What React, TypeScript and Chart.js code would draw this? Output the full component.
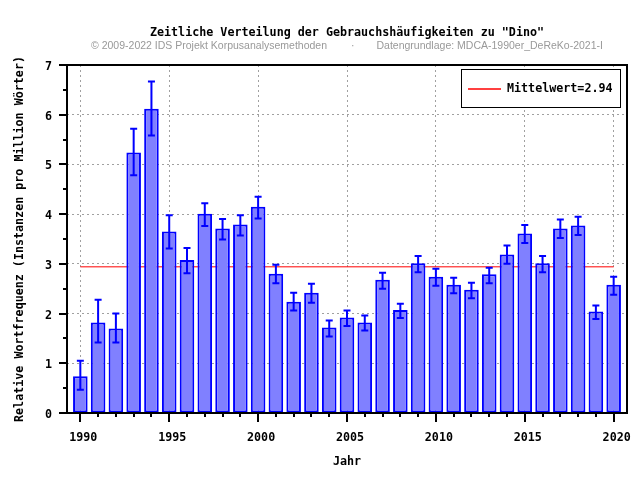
import React, { useEffect, useRef } from "react";
import { Chart, registerables } from "chart.js";

Chart.register(...registerables);

const years = [
  1990, 1991, 1992, 1993, 1994, 1995, 1996, 1997, 1998, 1999, 2000, 2001, 2002, 2003, 2004, 2005,
  2006, 2007, 2008, 2009, 2010, 2011, 2012, 2013, 2014, 2015, 2016, 2017, 2018, 2019, 2020,
];
const values = [
  0.74, 1.82, 1.7, 5.24, 6.12, 3.65, 3.08, 4.01, 3.71, 3.79, 4.15, 2.8, 2.24, 2.42, 1.72, 1.92,
  1.82, 2.68, 2.07, 3.01, 2.74, 2.58, 2.48, 2.79, 3.19, 3.61, 3.01, 3.71, 3.77, 2.04, 2.58,
];
const errLow = [
  0.47, 1.42, 1.42, 4.78, 5.58, 3.31, 2.81, 3.76, 3.49, 3.57, 3.91, 2.61, 2.06, 2.22, 1.54, 1.75,
  1.66, 2.5, 1.91, 2.83, 2.56, 2.41, 2.31, 2.61, 3.0, 3.42, 2.83, 3.52, 3.58, 1.89, 2.38,
];
const errHigh = [
  1.05, 2.28, 2.0, 5.72, 6.67, 3.98, 3.32, 4.22, 3.9, 3.98, 4.35, 2.98, 2.42, 2.6, 1.86, 2.06,
  1.96, 2.82, 2.2, 3.16, 2.9, 2.72, 2.62, 2.92, 3.37, 3.78, 3.16, 3.89, 3.95, 2.16, 2.74,
];
const meanValue = 2.94;
const meanLabel = "Mittelwert=2.94";
const yTickValues = [0, 0.5, 1, 1.5, 2, 2.5, 3, 3.5, 4, 4.5, 5, 5.5, 6, 6.5, 7];

const titleText = 'Zeitliche Verteilung der Gebrauchshäufigkeiten zu "Dino"';
const subtitleLeft = "© 2009-2022 IDS Projekt Korpusanalysemethoden";
const subtitleDot = "·";
const subtitleRight = "Datengrundlage: MDCA-1990er_DeReKo-2021-I";
const xTitle = "Jahr";
const yTitle = "Relative Wortfrequenz (Instanzen pro Million Wörter)";

const MONO = "'DejaVu Sans Mono', 'Liberation Mono', monospace";
const monoFont = { family: MONO, size: 11.7, weight: "bold" as const };
const TRANSPARENT = "rgba(0,0,0,0)";

const decorPlugin = {
  id: "decor",
  beforeDraw(chart: any) {
    const { ctx, width, height } = chart;
    ctx.save();
    ctx.fillStyle = "#ffffff";
    ctx.fillRect(0, 0, width, height);
    ctx.restore();
  },
  afterDatasetsDraw(chart: any) {
    const { ctx, chartArea: ca, scales } = chart;
    const xs = scales.x;
    const ys = scales.y;
    ctx.save();

    // error bars
    ctx.strokeStyle = "#0000ff";
    ctx.lineWidth = 2;
    years.forEach((yr, i) => {
      const x = xs.getPixelForValue(yr);
      const lo = ys.getPixelForValue(errLow[i]);
      const hi = ys.getPixelForValue(errHigh[i]);
      ctx.beginPath();
      ctx.moveTo(x, lo);
      ctx.lineTo(x, hi);
      ctx.moveTo(x - 3.5, hi);
      ctx.lineTo(x + 3.5, hi);
      ctx.moveTo(x - 3.5, lo);
      ctx.lineTo(x + 3.5, lo);
      ctx.stroke();
    });

    // frame
    ctx.strokeStyle = "#000000";
    ctx.lineWidth = 2;
    ctx.strokeRect(ca.left, ca.top, ca.right - ca.left, ca.bottom - ca.top);

    // x tick marks
    years.forEach((yr) => {
      const x = Math.round(xs.getPixelForValue(yr));
      const len = yr % 5 === 0 ? 9 : 4;
      ctx.beginPath();
      ctx.moveTo(x, ca.bottom);
      ctx.lineTo(x, ca.bottom + len);
      ctx.stroke();
    });
    // y tick marks
    yTickValues.forEach((v) => {
      const y = Math.round(ys.getPixelForValue(v));
      const len = Number.isInteger(v) ? 8 : 4;
      ctx.beginPath();
      ctx.moveTo(ca.left, y);
      ctx.lineTo(ca.left - len, y);
      ctx.stroke();
    });

    // legend
    ctx.font = `bold 11.7px ${MONO}`;
    const tw = ctx.measureText(meanLabel).width;
    const boxW = Math.round(54 + tw);
    const boxH = 39;
    const boxRight = ca.right - 6;
    const boxLeft = boxRight - boxW;
    const boxTop = ca.top + 4;
    ctx.fillStyle = "#ffffff";
    ctx.fillRect(boxLeft, boxTop, boxW, boxH);
    ctx.lineWidth = 1;
    ctx.strokeStyle = "#000000";
    ctx.strokeRect(boxLeft + 0.5, boxTop + 0.5, boxW - 1, boxH - 1);
    const midY = Math.round(boxTop + boxH / 2);
    ctx.strokeStyle = "#ff0000";
    ctx.lineWidth = 1.5;
    ctx.beginPath();
    ctx.moveTo(boxLeft + 7, midY);
    ctx.lineTo(boxLeft + 40, midY);
    ctx.stroke();
    ctx.fillStyle = "#000000";
    ctx.textAlign = "left";
    ctx.textBaseline = "middle";
    ctx.fillText(meanLabel, boxLeft + 46, midY);

    // titles
    const cx = (ca.left + ca.right) / 2;
    ctx.textAlign = "center";
    ctx.fillText(titleText, cx, 33);
    ctx.font = "10.5px 'Liberation Sans', Arial, sans-serif";
    ctx.fillStyle = "#999999";
    const wl = ctx.measureText(subtitleLeft).width;
    const wd = ctx.measureText(subtitleDot).width;
    const wr = ctx.measureText(subtitleRight).width;
    const gap1 = 24;
    const gap2 = 22;
    const total = wl + gap1 + wd + gap2 + wr;
    let sx = cx - total / 2;
    ctx.textAlign = "left";
    ctx.fillText(subtitleLeft, sx, 46);
    sx += wl + gap1;
    ctx.fillText(subtitleDot, sx, 46);
    sx += wd + gap2;
    ctx.fillText(subtitleRight, sx, 46);

    ctx.restore();
  },
};

export default function App() {
  const ref = useRef<HTMLCanvasElement>(null);
  useEffect(() => {
    if (!ref.current) return;
    const chart = new Chart(ref.current, {
      type: "bar",
      data: {
        datasets: [
          {
            type: "bar",
            label: "Dino",
            data: years.map((yr, i) => ({ x: yr, y: values[i] })),
            backgroundColor: "#8080ff",
            borderColor: "#0000ff",
            borderWidth: 2,
            borderSkipped: false,
            barPercentage: 0.82,
            categoryPercentage: 1,
            order: 1,
          } as any,
          {
            type: "line",
            label: meanLabel,
            data: [
              { x: years[0], y: meanValue },
              { x: years[years.length - 1], y: meanValue },
            ],
            borderColor: "#ff0000",
            borderWidth: 1,
            pointRadius: 0,
            fill: false,
            order: 2,
          } as any,
        ],
      },
      options: {
        responsive: false,
        animation: false,
        devicePixelRatio: 1,
        layout: { padding: { top: 65, right: 0, bottom: 0, left: 0 } },
        plugins: {
          legend: { display: false },
          tooltip: { enabled: false },
          title: { display: false },
        },
        scales: {
          x: {
            type: "linear",
            offset: false,
            min: 1989.25,
            max: 2020.75,
            afterBuildTicks: (s: any) => {
              s.ticks = years.map((v) => ({ value: v }));
            },
            afterFit: (s: any) => {
              s.height = 67;
              s.paddingLeft = 0;
              s.paddingRight = 13;
            },
            ticks: {
              autoSkip: false,
              maxRotation: 0,
              minRotation: 0,
              padding: 18,
              labelOffset: 3,
              color: "#000000",
              font: monoFont,
              callback: (v: any) => (Number(v) % 5 === 0 ? String(v) : ""),
            },
            grid: {
              offset: false,
              drawTicks: false,
              lineWidth: 1,
              color: (c: any) =>
                c.tick && c.tick.value % 5 === 0 ? "#a0a0a0" : TRANSPARENT,
            },
            border: { display: false, dash: [2, 3] },
            title: {
              display: true,
              text: xTitle,
              color: "#000000",
              font: monoFont,
              padding: { top: 0, bottom: 11 },
            },
          },
          y: {
            min: 0,
            max: 7,
            afterBuildTicks: (s: any) => {
              s.ticks = yTickValues.map((v) => ({ value: v }));
            },
            afterFit: (s: any) => {
              s.width = 67;
            },
            ticks: {
              padding: 15,
              labelOffset: 2,
              color: "#000000",
              font: monoFont,
              callback: (v: any) => (Number.isInteger(Number(v)) ? String(v) : ""),
            },
            grid: {
              drawTicks: false,
              lineWidth: 1,
              color: (c: any) =>
                c.tick && Number.isInteger(c.tick.value) ? "#a0a0a0" : TRANSPARENT,
            },
            border: { display: false, dash: [2, 3] },
            title: {
              display: true,
              text: yTitle,
              color: "#000000",
              font: monoFont,
              padding: { top: 13, bottom: 0 },
            },
          },
        },
      },
      plugins: [decorPlugin],
    } as any);
    return () => chart.destroy();
  }, []);
  return (
    <div style={{ position: "absolute", left: 0, top: 0, width: 640, height: 480 }}>
      <canvas ref={ref} width={640} height={480} style={{ display: "block", width: 640, height: 480 }} />
    </div>
  );
}
